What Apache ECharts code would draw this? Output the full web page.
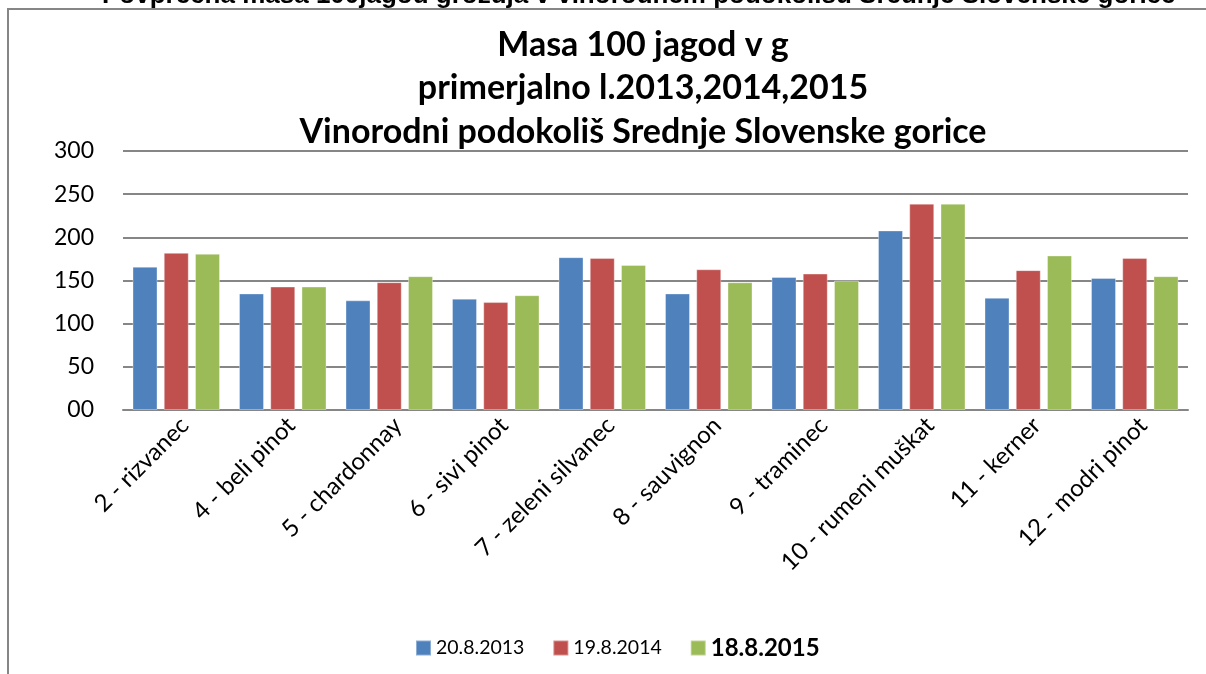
<!DOCTYPE html>
<html>
<head>
<meta charset="utf-8">
<script src="https://cdn.jsdelivr.net/npm/echarts@6/dist/echarts.min.js"></script>
<style>
  html, body { margin: 0; padding: 0; background: #fff; }
  #chart { width: 1206px; height: 674px; }
</style>
</head>
<body>
<div id="chart"></div>
<script>
// sorte (kategorije)
const sorte = ['2 - rizvanec', '4 - beli pinot', '5 - chardonnay', '6 - sivi pinot', '7 - zeleni silvanec',
  '8 - sauvignon', '9 - traminec', '10 - rumeni muškat', '11 - kerner', '12 - modri pinot'];
// datumi vzorčenja
const datumi = ['20.8.2013', '19.8.2014', '18.8.2015'];
// masa 100 jagod v g
const masa2013 = [166, 135, 127, 129, 177, 135, 154, 208, 130, 153];
const masa2014 = [182, 143, 148, 125, 176, 163, 158, 239, 162, 176];
const masa2015 = [181, 143, 155, 133, 168, 148, 150, 239, 179, 155];
const yTicks = [0, 50, 100, 150, 200, 250, 300];

const barve = ['#4F81BD', '#C0504D', '#9BBB59'];
const font = 'Lato, Carlito, "Open Sans", sans-serif';

const chart = echarts.init(document.getElementById('chart'));

function serija(ime, podatki, barva) {
  return {
    name: ime,
    type: 'bar',
    data: podatki,
    barWidth: 25,
    barGap: '25%',
    itemStyle: { color: barva, borderColor: 'rgba(255,255,255,0.35)', borderWidth: 1 },
    emphasis: { disabled: true }
  };
}

chart.setOption({
  animation: false,
  color: barve,
  textStyle: { fontFamily: font },
  title: {
    text: 'Masa 100 jagod v g\nprimerjalno l.2013,2014,2015\nVinorodni podokoliš Srednje Slovenske gorice',
    left: 638,
    textAlign: 'center',
    top: 18,
    textStyle: { fontSize: 34, fontWeight: 'bold', lineHeight: 43.5, color: '#000', fontFamily: font }
  },
  graphic: [
    {
      type: 'rect',
      shape: { x: 8, y: 9, width: 1300, height: 700 },
      style: { fill: 'none', stroke: '#868686', lineWidth: 2 },
      z: -10
    },
    {
      type: 'text',
      style: {
        x: 102,
        y: -4,
        verticalAlign: 'middle',
        text: 'Povprečna masa 100jagod grozdja v vinorodnem podokolišu Srednje Slovenske gorice',
        font: 'bold 26px "Liberation Sans", Arial, sans-serif',
        fill: '#000'
      }
    }
  ],
  legend: {
    left: 410,
    top: 631,
    itemWidth: 15,
    itemHeight: 15,
    itemGap: 28,
    icon: 'rect',
    textStyle: { fontSize: 19.5, color: '#000', fontFamily: font },
    data: [
      { name: datumi[0] },
      { name: datumi[1] },
      { name: datumi[2], textStyle: { fontSize: 24, fontWeight: 'bold' } }
    ]
  },
  grid: { left: 123, right: 18, top: 151, bottom: 264, containLabel: false },
  xAxis: {
    type: 'category',
    data: sorte,
    axisLine: { lineStyle: { color: '#868686', width: 2 } },
    axisTick: { show: false },
    axisLabel: {
      interval: 0, rotate: 45, fontSize: 24, color: '#000', margin: 20,
      padding: [0, -12, 0, 0], fontFamily: font
    }
  },
  yAxis: {
    type: 'value',
    min: yTicks[0],
    max: yTicks[yTicks.length - 1],
    interval: yTicks[1] - yTicks[0],
    axisLine: { show: false },
    axisTick: { show: false },
    axisLabel: {
      fontSize: 23, color: '#000', margin: 29, fontFamily: font,
      formatter: v => (v === 0 ? '00' : String(v))
    },
    splitLine: { lineStyle: { color: '#868686', width: 2 } }
  },
  series: [
    serija(datumi[0], masa2013, barve[0]),
    serija(datumi[1], masa2014, barve[1]),
    serija(datumi[2], masa2015, barve[2])
  ]
});
</script>
</body>
</html>
